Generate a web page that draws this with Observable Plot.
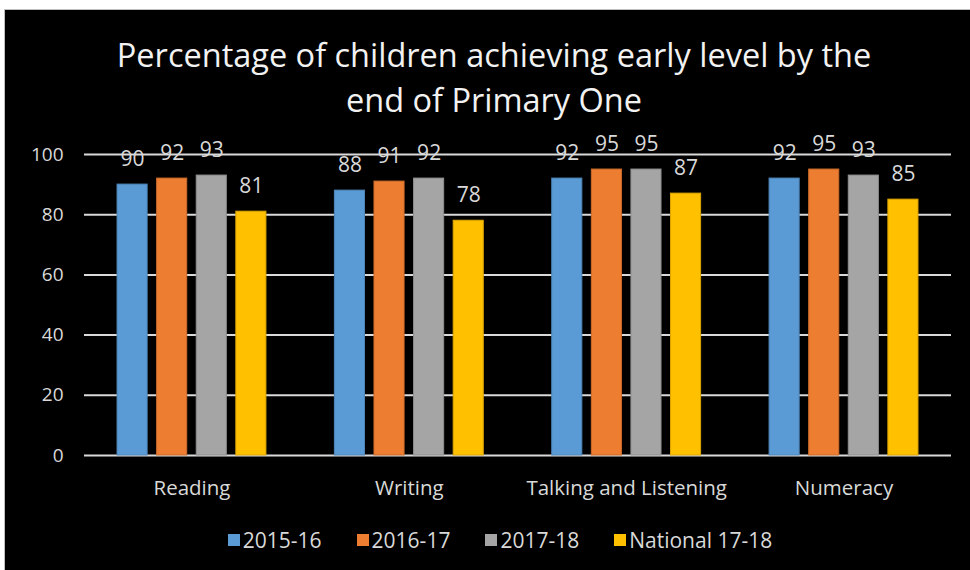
<!DOCTYPE html>
<html>
<head>
<meta charset="utf-8">
<script src="https://cdn.jsdelivr.net/npm/d3@7"></script>
<script src="https://cdn.jsdelivr.net/npm/@observablehq/plot@0.6"></script>
<style>
  html, body { margin: 0; padding: 0; background: #fff; width: 970px; height: 570px; overflow: hidden; }
  #frame { position: absolute; left: 4px; top: 9px; width: 966px; height: 561px; background: #000; border-top: 1px solid #bfbfbf; border-left: 1px solid #bfbfbf; box-sizing: border-box; font-family: "Open Sans", sans-serif; }
  #title { position: absolute; left: 6px; top: 22px; width: 966px; text-align: center; color: #f2f2f2; font-size: 32.5px; line-height: 45px; }
  .layer { position: absolute; left: -1px; top: 119px; }
  #legend { position: absolute; left: 12px; top: 516px; width: 966px; display: flex; justify-content: center; gap: 35px; color: #d9d9d9; font-size: 21px; }
  #legend .item { display: flex; align-items: center; gap: 3px; }
  #legend .sw { width: 12px; height: 12px; display: inline-block; }
</style>
</head>
<body>
<div id="frame">
  <div id="title">Percentage of children achieving early level by the<br>end of Primary One</div>
  <div id="grid" class="layer"></div>
  <div id="chart" class="layer"></div>
  <div id="legend"></div>
</div>
<script>
const categories = ["Reading", "Writing", "Talking and Listening", "Numeracy"];
const series = ["2015-16", "2016-17", "2017-18", "National 17-18"];
const colors = ["#5b9bd5", "#ed7d31", "#a5a5a5", "#ffc000"];
const values2015 = [90, 88, 92, 92];
const values2016 = [92, 91, 95, 95];
const values2017 = [93, 92, 95, 93];
const valuesNational = [81, 78, 87, 85];
const yTicks = [0, 20, 40, 60, 80, 100];

const seriesValues = [values2015, values2016, values2017, valuesNational];
const data = [];
categories.forEach((c, i) => {
  series.forEach((s, j) => data.push({category: c, series: s, value: seriesValues[j][i]}));
});

const textColor = "#d9d9d9";
const dims = {
  width: 966,
  height: 371,
  marginLeft: 80,
  marginRight: 19,
  marginTop: 25,
  marginBottom: 45,
  style: {background: "transparent", color: textColor, fontFamily: "Open Sans, sans-serif"}
};

// background layer: gridlines and y tick labels across the full frame
const grid = Plot.plot({
  ...dims,
  y: {domain: [0, 100]},
  marks: [
    Plot.ruleY(yTicks, {stroke: "#d9d9d9", strokeWidth: 2}),
    Plot.axisY(yTicks, {tickSize: 0, tickPadding: 21, fontSize: 19, fill: textColor, label: null})
  ]
});
document.getElementById("grid").appendChild(grid);

// foreground layer: grouped bars
const plot = Plot.plot({
  ...dims,
  fx: {domain: categories, paddingInner: 0.315, paddingOuter: 0.152, round: false, label: null},
  x: {domain: series, paddingInner: 0.24, paddingOuter: 0, round: false, axis: null},
  y: {domain: [0, 100], axis: null},
  color: {domain: series, range: colors},
  marks: [
    Plot.barY(data, {fx: "category", x: "series", y: "value", fill: "series", stroke: d => d3.color(colors[series.indexOf(d.series)]).darker(0.4).formatHex(), strokeWidth: 1}),
    Plot.text(data, {fx: "category", x: "series", y: "value", text: d => String(d.value), dy: -25, fill: textColor, fontSize: 21}),
    Plot.axisFx({anchor: "bottom", tickSize: 0, tickPadding: 25, fontSize: 20.5, fill: textColor, label: null})
  ]
});
document.getElementById("chart").appendChild(plot);

const legend = document.getElementById("legend");
series.forEach((s, i) => {
  const item = document.createElement("div");
  item.className = "item";
  const sw = document.createElement("span");
  sw.className = "sw";
  sw.style.background = colors[i];
  const label = document.createElement("span");
  label.textContent = s;
  item.appendChild(sw);
  item.appendChild(label);
  legend.appendChild(item);
});
</script>
</body>
</html>
